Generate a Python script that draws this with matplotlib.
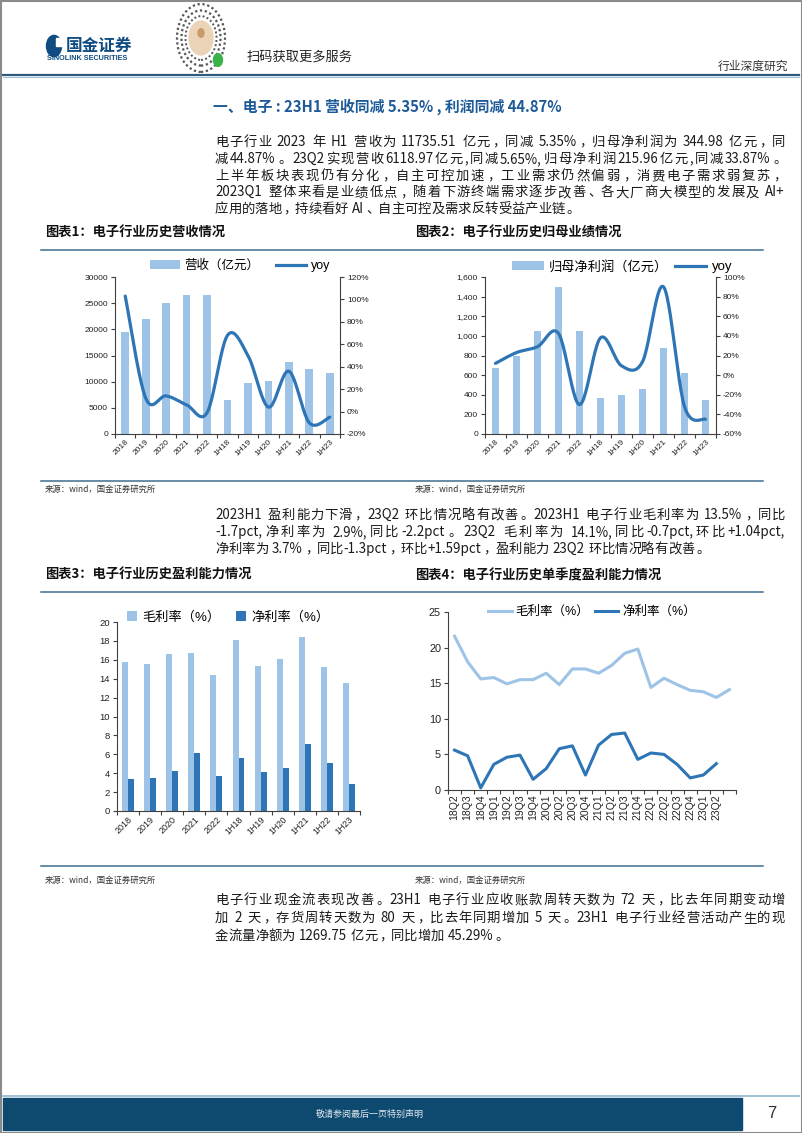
import re
import numpy as np
import matplotlib
matplotlib.use("Agg")
import matplotlib.pyplot as plt
from matplotlib.patches import Rectangle, Circle, Patch
from matplotlib.lines import Line2D
from matplotlib.font_manager import FontProperties
from matplotlib.ticker import FuncFormatter

plt.rcParams['font.family'] = ['Liberation Sans', 'Noto Sans CJK SC', 'DejaVu Sans']

# ---------------- data ----------------
cats_annual = ['2018', '2019', '2020', '2021', '2022', '1H18', '1H19', '1H20', '1H21', '1H22', '1H23']
revenue = [19500, 22000, 25000, 26600, 26600, 6500, 9800, 10100, 13700, 12400, 11700]
revenue_yoy = [103, 12, 14, 6, -1, 68, 50, 4, 36, -10, -5]
profit = [670, 800, 1050, 1500, 1045, 370, 400, 460, 880, 625, 345]
profit_yoy = [12, 23, 29, 42.5, -30, 38, 9.5, 13.6, 90, -32, -45]
gross_margin = [15.8, 15.6, 16.6, 16.7, 14.4, 18.1, 15.3, 16.1, 18.4, 15.2, 13.5]
net_margin = [3.4, 3.5, 4.2, 6.1, 3.7, 5.6, 4.1, 4.5, 7.1, 5.1, 2.9]
quarters = ['18Q2', '18Q3', '18Q4', '19Q1', '19Q2', '19Q3', '19Q4', '20Q1', '20Q2', '20Q3',
            '20Q4', '21Q1', '21Q2', '21Q3', '21Q4', '22Q1', '22Q2', '22Q3', '22Q4', '23Q1', '23Q2', '']
q_gross = [21.6, 18.0, 15.6, 15.8, 14.9, 15.5, 15.5, 16.4, 14.8, 17.0, 17.0, 16.4, 17.5, 19.2,
           19.8, 14.4, 15.7, 14.8, 14.0, 13.8, 13.0, 14.1]
q_net = [5.6, 4.8, 0.3, 3.6, 4.6, 4.9, 1.5, 3.0, 5.8, 6.2, 2.1, 6.3, 7.8, 8.0, 4.3, 5.2, 5.0,
         3.6, 1.7, 2.1, 3.7]

title_main = '一、电子 : 23H1 营收同减 5.35% , 利润同减 44.87%'
para1 = ['电子行业 2023 年 H1 营收为 11735.51 亿元，同减 5.35%，归母净利润为 344.98 亿元，同',
         '减44.87%。23Q2实现营收6118.97亿元,同减5.65%,归母净利润215.96亿元,同减33.87%。',
         '上半年板块表现仍有分化，自主可控加速，工业需求仍然偏弱，消费电子需求弱复苏，',
         '2023Q1 整体来看是业绩低点，随着下游终端需求逐步改善、各大厂商大模型的发展及 AI+',
         '应用的落地，持续看好 AI、自主可控及需求反转受益产业链。']
para2 = ['2023H1 盈利能力下滑，23Q2 环比情况略有改善。2023H1 电子行业毛利率为 13.5%，同比',
         '-1.7pct,净利率为 2.9%,同比-2.2pct。23Q2 毛利率为 14.1%,同比-0.7pct,环比+1.04pct,',
         '净利率为 3.7%，同比-1.3pct，环比+1.59pct，盈利能力 23Q2 环比情况略有改善。']
para3 = ['电子行业现金流表现改善。23H1 电子行业应收账款周转天数为 72 天，比去年同期变动增',
         '加 2 天，存货周转天数为 80 天，比去年同期增加 5 天。23H1 电子行业经营活动产生的现',
         '金流量净额为 1269.75 亿元，同比增加 45.29%。']
chart_titles = ['图表1：电子行业历史营收情况', '图表2：电子行业历史归母业绩情况',
                '图表3：电子行业历史盈利能力情况', '图表4：电子行业历史单季度盈利能力情况']
source_txt = '来源：wind，国金证券研究所'

LIGHT = '#9DC3E6'
DARK = '#2E75B6'
AXC = '#404040'
LINEC = '#3F6E8F'

W, H = 802, 1133
fig = plt.figure(figsize=(8.02, 11.33), dpi=100)
fig.patch.set_facecolor('white')


def fx(x):
    return x / W


def fy(y):
    return 1 - y / H


def rect(l, t, r, b):
    return [l / W, 1 - b / H, (r - l) / W, (b - t) / H]


def hline(y, x0, x1, color, lw):
    fig.add_artist(Line2D([fx(x0), fx(x1)], [fy(y), fy(y)], color=color, lw=lw,
                          transform=fig.transFigure))


def smooth(y, n=24):
    pts = np.column_stack([np.arange(len(y)), y]).astype(float)
    P = np.vstack([pts[0], pts, pts[-1]])
    out = []
    t = np.linspace(0, 1, n, endpoint=False)[:, None]
    for i in range(1, len(P) - 2):
        p0, p1, p2, p3 = P[i - 1], P[i], P[i + 1], P[i + 2]
        c1 = p1 + (p2 - p0) / 6
        c2 = p2 - (p3 - p1) / 6
        out.append((1 - t) ** 3 * p1 + 3 * (1 - t) ** 2 * t * c1 + 3 * (1 - t) * t ** 2 * c2 + t ** 3 * p2)
    out.append(pts[-1:])
    s = np.vstack(out)
    return s[:, 0], s[:, 1]


# ---------------- page frame, header, footer ----------------
fig.add_artist(Rectangle((0.5 / W, 0.5 / H), 801 / W, 1132 / H, fill=False, ec='#8A8A8A', lw=1.5,
                         transform=fig.transFigure))
# logo
fig.add_artist(Circle((fx(54), fy(46)), 7.5 / W, color='#0F4C81', transform=fig.transFigure))
fig.add_artist(Rectangle((fx(56), fy(46)), 6 / W, 8 / H, color='white', transform=fig.transFigure))
fig.text(fx(66), fy(46), '国金证券', fontsize=12, fontweight='bold', color='#0F4C81',
         family=['Noto Sans CJK SC'], va='center', ha='left')
fig.text(fx(47), fy(58), 'SINOLINK SECURITIES', fontsize=5.2, fontweight='bold', color='#0F4C81',
         va='center', ha='left')
# circular code
for r, lw in [(24, 1.6), (19.5, 1.6), (15.5, 1.4)]:
    fig.add_artist(Circle((fx(201), fy(38)), r / W, fill=False, ec='#555555', lw=lw, ls=(0, (1.0, 1.2)),
                          transform=fig.transFigure))
fig.add_artist(Circle((fx(201), fy(38)), 12 / W, color='#EBD3B8', transform=fig.transFigure))
fig.add_artist(Circle((fx(201), fy(33)), 3 / W, color='#C89A6A', transform=fig.transFigure))
fig.add_artist(Circle((fx(218), fy(60)), 4.5 / W, color='#3CB34A', transform=fig.transFigure))
fig.text(fx(247), fy(57), '扫码获取更多服务', fontsize=9.5, color='#222222', family=['Noto Sans CJK SC'],
         va='center', ha='left')
fig.text(fx(788), fy(66), '行业深度研究', fontsize=8.5, color='#333333', family=['Noto Sans CJK SC'],
         va='center', ha='right')
hline(75, 3, 799, '#2D5B7C', 1.6)
hline(77, 3, 799, '#9FC0D6', 0.8)

# footer
hline(1096, 3, 799, '#8FB8D0', 1.2)
fig.add_artist(Rectangle((fx(3), fy(1130)), 739 / W, 32 / H, color='#0E4A70', transform=fig.transFigure))
fig.text(fx(370), fy(1114), '敬请参阅最后一页特别声明', fontsize=6.5, color='#DDE6EE',
         family=['Noto Sans CJK SC'], va='center', ha='center')
fig.text(fx(772), fy(1113), '7', fontsize=12, color='#333333', va='center', ha='center')

# ---------------- texts ----------------
fig.text(fx(213), fy(107), title_main, fontsize=10.7, fontweight='bold', color='#1D5B98',
         family=['Noto Sans CJK SC'], va='center', ha='left')

BODY_FP = FontProperties(family=['Noto Sans CJK SC'], size=9.6)
CJK = r'[\u3000-\u303f\u4e00-\u9fff\uff00-\uffef]'
PUNCT = '，。、：；'


def draw_par(lines, x0, x1, ys):
    renderer = fig.canvas.get_renderer()
    em = BODY_FP.get_size_in_points() * 100 / 72
    for li, (line, yc) in enumerate(zip(lines, ys)):
        toks = re.findall(CJK + r'|[^\s\u3000-\u303f\u4e00-\u9fff\uff00-\uffef]+|\s+', line)
        widths = []
        for tk in toks:
            if re.fullmatch(CJK, tk):
                widths.append(em)
            elif tk.isspace():
                widths.append(0.25 * em * len(tk))
            else:
                w, _, _ = renderer.get_text_width_height_descent(tk, BODY_FP, ismath=False)
                widths.append(w + 0.06 * em)
        natural = sum(widths)
        gap = 0.0
        if li < len(lines) - 1 and len(toks) > 1:
            gap = ((x1 - x0) - natural) / (len(toks) - 1)
        x = x0
        for tk, w in zip(toks, widths):
            if not tk.isspace():
                if re.fullmatch(CJK, tk):
                    if tk in PUNCT:
                        fig.text(fx(x + 0.12 * em), fy(yc + 0.36 * em), tk, fontproperties=BODY_FP,
                                 color='#1A1A1A', ha='left', va='baseline')
                    else:
                        fig.text(fx(x + w / 2), fy(yc + 0.36 * em), tk, fontproperties=BODY_FP,
                                 color='#1A1A1A', ha='center', va='baseline')
                else:
                    fig.text(fx(x + 0.03 * em), fy(yc + 0.36 * em), tk, fontproperties=BODY_FP,
                             color='#1A1A1A', ha='left', va='baseline')
            x += w + gap


draw_par(para1, 215, 785, [141, 158, 175, 191.5, 208])
draw_par(para2, 215, 785, [514, 531, 548])
draw_par(para3, 215, 785, [899, 917, 935])

# chart titles, rules and sources
for txt, x, y in [(chart_titles[0], 45, 233), (chart_titles[1], 415, 233),
                  (chart_titles[2], 45, 575), (chart_titles[3], 415, 575)]:
    fig.text(fx(x), fy(y), txt, fontsize=9.5, fontweight='bold', fontstyle='italic', color='#111111',
             family=['Noto Sans CJK SC'], va='center', ha='left')
for y in [250, 481, 592, 866]:
    hline(y, 41, 763, LINEC, 1.1)
for x, y in [(45, 489), (415, 489), (45, 880), (415, 880)]:
    fig.text(fx(x), fy(y), source_txt, fontsize=6, color='#333333', family=['Noto Sans CJK SC'],
             va='center', ha='left')


def style_cat_axis(ax, labels, rot, fs, pad):
    n = len(labels)
    ax.set_xlim(-0.5, n - 0.5)
    ax.set_xticks(np.arange(-0.5, n, 1))
    ax.set_xticklabels([])
    ax.set_xticks(np.arange(n), minor=True)
    if rot == 45:
        ax.set_xticklabels(labels, minor=True, rotation=45, ha='right', rotation_mode='anchor', fontsize=fs)
    else:
        ax.set_xticklabels(labels, minor=True, rotation=90, ha='center', va='top', fontsize=fs)
    ax.tick_params(axis='x', which='major', direction='out', length=3, color=AXC, width=0.8)
    ax.tick_params(axis='x', which='minor', length=0, pad=pad, labelcolor='#222222')
    for s in ['top', 'right']:
        ax.spines[s].set_visible(False)
    for s in ['left', 'bottom']:
        ax.spines[s].set_color(AXC)
        ax.spines[s].set_linewidth(0.8)
    ax.tick_params(axis='y', direction='out', length=3, color=AXC, width=0.8, labelcolor='#222222')


# ---------------- chart 1 ----------------
ax1 = fig.add_axes(rect(115, 277, 340, 434))
x = np.arange(len(cats_annual))
ax1.bar(x, revenue, width=0.38, color=LIGHT, zorder=2)
ax1.set_ylim(0, 30000)
ax1.set_yticks(range(0, 30001, 5000))
style_cat_axis(ax1, cats_annual, 45, 6, 3)
ax1.tick_params(axis='y', labelsize=6, pad=2)
ax1r = ax1.twinx()
sx, sy = smooth(revenue_yoy)
ax1r.plot(sx, sy, color=DARK, lw=2.3, solid_capstyle='round')
ax1r.set_ylim(-20, 120)
ax1r.set_yticks(range(-20, 121, 20))
ax1r.yaxis.set_major_formatter(FuncFormatter(lambda v, p: f'{v:.0f}%'))
for s in ['top', 'left', 'bottom']:
    ax1r.spines[s].set_visible(False)
ax1r.spines['right'].set_color(AXC)
ax1r.spines['right'].set_linewidth(0.8)
ax1r.tick_params(axis='y', direction='out', length=3, color=AXC, width=0.8, labelsize=6, pad=2,
                 labelcolor='#222222')
fig.legend([Patch(facecolor=LIGHT), Line2D([], [], color=DARK, lw=2.3)], ['营收（亿元）', 'yoy'],
           loc='center', bbox_to_anchor=(fx(240), fy(266)), ncol=2, frameon=False, fontsize=9,
           handlelength=2.4, handleheight=0.7, columnspacing=1.3, handletextpad=0.4)

# ---------------- chart 2 ----------------
ax2 = fig.add_axes(rect(485, 277, 716, 434))
ax2.bar(x, profit, width=0.38, color=LIGHT, zorder=2)
ax2.set_ylim(0, 1600)
ax2.set_yticks(range(0, 1601, 200))
ax2.yaxis.set_major_formatter(FuncFormatter(lambda v, p: f'{v:,.0f}'))
style_cat_axis(ax2, cats_annual, 45, 6, 3)
ax2.tick_params(axis='y', labelsize=6, pad=2)
ax2r = ax2.twinx()
sx, sy = smooth(profit_yoy)
ax2r.plot(sx, sy, color=DARK, lw=2.3, solid_capstyle='round')
ax2r.set_ylim(-60, 100)
ax2r.set_yticks(range(-60, 101, 20))
ax2r.yaxis.set_major_formatter(FuncFormatter(lambda v, p: f'{v:.0f}%'))
for s in ['top', 'left', 'bottom']:
    ax2r.spines[s].set_visible(False)
ax2r.spines['right'].set_color(AXC)
ax2r.spines['right'].set_linewidth(0.8)
ax2r.tick_params(axis='y', direction='out', length=3, color=AXC, width=0.8, labelsize=6, pad=2,
                 labelcolor='#222222')
fig.legend([Patch(facecolor=LIGHT), Line2D([], [], color=DARK, lw=2.3)], ['归母净利润（亿元）', 'yoy'],
           loc='center', bbox_to_anchor=(fx(622), fy(267)), ncol=2, frameon=False, fontsize=9.5,
           handlelength=2.4, handleheight=0.7, columnspacing=0.5, handletextpad=0.4)

# ---------------- chart 3 ----------------
ax3 = fig.add_axes(rect(117, 622, 360, 811))
bw = 0.27
ax3.bar(x - bw / 2, gross_margin, width=bw, color=LIGHT, zorder=2)
ax3.bar(x + bw / 2, net_margin, width=bw, color=DARK, zorder=2)
ax3.set_ylim(0, 20)
ax3.set_yticks(range(0, 21, 2))
style_cat_axis(ax3, cats_annual, 45, 6.5, 3)
ax3.tick_params(axis='y', labelsize=6.8, pad=2)
fig.legend([Patch(facecolor=LIGHT), Patch(facecolor=DARK)], ['毛利率（%）', '净利率（%）'],
           loc='center', bbox_to_anchor=(fx(228), fy(617)), ncol=2, frameon=False, fontsize=9.5,
           handlelength=0.75, handleheight=0.75, columnspacing=1.2, handletextpad=0.4)

# ---------------- chart 4 ----------------
ax4 = fig.add_axes(rect(448, 612, 736, 790))
ax4.plot(np.arange(len(q_gross)), q_gross, color=LIGHT, lw=2.2)
ax4.plot(np.arange(len(q_net)), q_net, color=DARK, lw=2.2)
ax4.set_ylim(0, 25)
ax4.set_yticks(range(0, 26, 5))
style_cat_axis(ax4, quarters, 90, 7.5, 3)
ax4.tick_params(axis='y', labelsize=7.8, pad=2)
fig.legend([Line2D([], [], color=LIGHT, lw=2.2), Line2D([], [], color=DARK, lw=2.2)],
           ['毛利率（%）', '净利率（%）'], loc='center', bbox_to_anchor=(fx(592), fy(612)), ncol=2,
           frameon=False, fontsize=9, handlelength=1.9, columnspacing=0.4, handletextpad=0.3)

fig.savefig('out.png', dpi=100, facecolor='white')
